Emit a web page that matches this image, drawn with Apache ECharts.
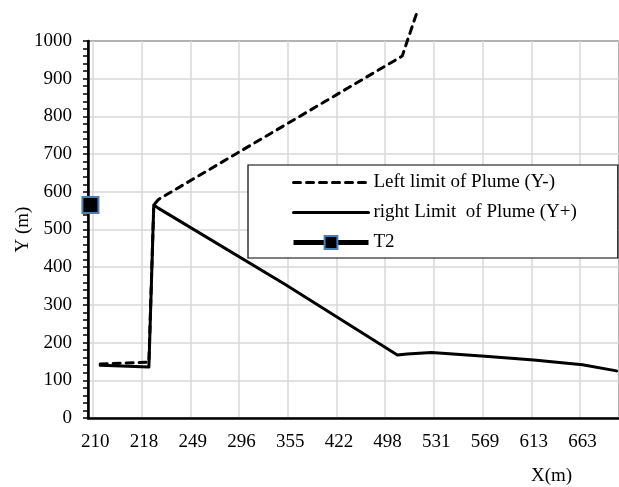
<!DOCTYPE html>
<html>
<head>
<meta charset="utf-8">
<script src="https://cdn.jsdelivr.net/npm/echarts@6/dist/echarts.min.js"></script>
<style>
  html, body { margin: 0; padding: 0; background: #fff; }
  #chart { width: 619px; height: 487px; }
</style>
</head>
<body>
<div id="chart"></div>
<script>
  // one slot per data row, only every 10th row has a label on the axis
  const rowCount = 109
  const tickLabels = ['210', '218', '249', '296', '355', '422', '498', '531', '569', '613', '663']
  // [row index, Y (m)]
  const leftLimit = [[2, 143], [12, 148], [13, 565], [14, 580], [64, 960], [67, 1075]]
  const rightLimit = [[2, 140], [12, 135], [13, 565], [14, 556], [40, 354], [63, 167], [65, 170],
    [70, 174], [81, 164], [91, 154], [101, 141], [108, 125]]
  const t2 = [[0, 565]]

  const categories = Array.from({ length: rowCount }, (_, i) => i % 10 === 1 ? tickLabels[(i - 1) / 10] : '')
  const font = "'Liberation Serif', 'Times New Roman', serif"

  const chart = echarts.init(document.getElementById('chart'))
  const option = {
    animation: false,
    textStyle: { fontFamily: font, color: '#000' },
    grid: {
      left: 88, right: 0, top: 41, bottom: 69,
      outerBoundsMode: 'none',
      show: true, borderColor: '#000', borderWidth: 1.5
    },
    xAxis: [
      {
        type: 'category',
        data: categories,
        boundaryGap: true,
        axisLine: { lineStyle: { color: '#000', width: 2.5 } },
        axisTick: {
          interval: (i) => i % 10 === 1,
          length: 6,
          lineStyle: { color: '#000', width: 1.5 }
        },
        axisLabel: {
          interval: (i) => i % 10 === 1,
          margin: 15,
          fontSize: 19, fontFamily: font, color: '#000'
        },
        splitLine: {
          show: true,
          interval: (i) => i % 10 === 1,
          lineStyle: { color: '#d9d9d9', width: 1.5 }
        }
      },
      {
        // minor ticks between labels
        type: 'category',
        data: categories,
        position: 'bottom',
        boundaryGap: true,
        axisLine: { show: false },
        axisTick: {
          interval: (i) => i % 10 === 6,
          length: 4,
          lineStyle: { color: '#000', width: 1.5 }
        },
        axisLabel: { show: false },
        splitLine: { show: false }
      }
    ],
    yAxis: {
      type: 'value',
      min: 0, max: 1000, interval: 100,
      name: 'Y (m)',
      nameLocation: 'middle',
      nameGap: 55,
      nameMoveOverlap: false,
      nameTextStyle: { fontSize: 19, fontFamily: font, color: '#000' },
      axisLine: { show: true, lineStyle: { color: '#000', width: 2.5 } },
      axisTick: { show: true, length: 5, lineStyle: { color: '#000', width: 1.5 } },
      minorTick: { show: true, splitNumber: 5, length: 5, lineStyle: { color: '#000', width: 1.5 } },
      axisLabel: {
        margin: 16, fontSize: 19, fontFamily: font, color: '#000',
        formatter: (v) => String(v)
      },
      splitLine: { lineStyle: { color: '#d9d9d9', width: 1.5 } }
    },
    legend: {
      orient: 'vertical',
      left: 248, top: 165,
      padding: [8, 41, 6, 43],
      itemWidth: 75, itemHeight: 16, itemGap: 11,
      backgroundColor: '#fff',
      borderColor: '#000', borderWidth: 1.2,
      lineStyle: { width: 'inherit' },
      textStyle: { fontSize: 19, fontFamily: font, color: '#000' },
      data: [
        { name: 'Left limit of Plume (Y-)', itemStyle: { opacity: 0 } },
        { name: 'right Limit  of Plume (Y+)', itemStyle: { opacity: 0 } },
        { name: 'T2' }
      ]
    },
    graphic: [{
      type: 'text', left: 531, top: 467,
      style: { text: 'X(m)', font: "19px 'Liberation Serif', serif", fill: '#000' }
    }],
    series: [
      {
        name: 'Left limit of Plume (Y-)',
        type: 'line',
        data: leftLimit,
        symbol: 'none',
        clip: false,
        itemStyle: { color: '#000' },
        lineStyle: { color: '#000', width: 3, type: [7, 6], cap: 'round', join: 'round' }
      },
      {
        name: 'right Limit  of Plume (Y+)',
        type: 'line',
        data: rightLimit,
        symbol: 'none',
        itemStyle: { color: '#000' },
        lineStyle: { color: '#000', width: 3, cap: 'round', join: 'round' }
      },
      {
        name: 'T2',
        type: 'line',
        data: t2,
        symbol: 'rect',
        symbolSize: 16,
        showSymbol: true,
        showAllSymbol: true,
        clip: false,
        z: 5,
        itemStyle: { color: '#000', borderColor: '#4a7ebb', borderWidth: 2 },
        lineStyle: { color: '#000', width: 5 }
      }
    ]
  }
  chart.setOption(option)
</script>
</body>
</html>
